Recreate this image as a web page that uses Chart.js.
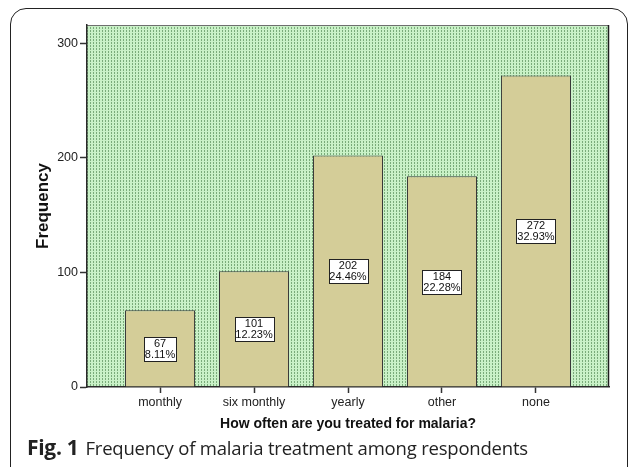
<!DOCTYPE html>
<html>
<head>
<meta charset="utf-8">
<script src="https://cdn.jsdelivr.net/npm/chart.js@4.4.1/dist/chart.umd.min.js"></script>
<style>
  html, body { margin: 0; padding: 0; background: #ffffff; }
  #wrap { position: relative; width: 630px; height: 467px; overflow: hidden; }
  #frame {
    position: absolute; left: 10px; top: 8px; width: 618px; height: 475px;
    border: 1.5px solid #222; border-radius: 16px; box-sizing: border-box;
  }
  #chart { position: absolute; left: 0; top: 0; }
  #caption {
    position: absolute; left: 27px; top: 434px;
    font-family: "Open Sans", "Noto Sans", sans-serif; color: #222;
    white-space: nowrap; line-height: 26px;
  }
  #caption b { font-weight: 700; font-size: 21px; margin-right: 7px; letter-spacing: -0.3px; }
  #caption span { font-size: 18.5px; letter-spacing: -0.2px; }
</style>
</head>
<body>
<div id="wrap">
  <div id="frame"></div>
  <canvas id="chart" width="630" height="467"></canvas>
  <div id="caption"><b>Fig. 1</b><span>Frequency of malaria treatment among respondents</span></div>
</div>
<script>
// Frequency of malaria treatment, by answer category
const categories = ["monthly", "six monthly", "yearly", "other", "none"];
const counts = [67, 101, 202, 184, 272];
const percentLabels = ["8.11%", "12.23%", "24.46%", "22.28%", "32.93%"];
const yTicks = [0, 100, 200, 300];

const FONT = "'Liberation Sans', Arial, sans-serif";

// dotted green fill for the plot background
function makeDotPattern(ctx) {
  const tile = document.createElement("canvas");
  tile.width = 3; tile.height = 3;
  const t = tile.getContext("2d");
  t.fillStyle = "#c9f1c7";
  t.fillRect(0, 0, 3, 3);
  t.fillStyle = "#7aab7a";
  t.fillRect(0, 0, 1, 2);
  return ctx.createPattern(tile, "repeat");
}

const plotBackground = {
  id: "plotBackground",
  beforeDraw(chart) {
    const { ctx, chartArea: a } = chart;
    ctx.save();
    ctx.fillStyle = makeDotPattern(ctx);
    ctx.fillRect(a.left, a.top, a.right - a.left, a.bottom - a.top);
    // frame lines along top and right
    ctx.strokeStyle = "#6f6f6f";
    ctx.lineWidth = 1;
    ctx.beginPath();
    ctx.moveTo(a.left, a.top + 0.5);
    ctx.lineTo(a.right, a.top + 0.5);
    ctx.stroke();
    ctx.strokeStyle = "#1e1e1e";
    ctx.lineWidth = 1.5;
    ctx.beginPath();
    ctx.moveTo(a.right - 0.5, a.top);
    ctx.lineTo(a.right - 0.5, a.bottom);
    ctx.stroke();
    ctx.restore();
  }
};

// boxed count + percentage inside each bar
const barLabels = {
  id: "barLabels",
  afterDatasetsDraw(chart) {
    const { ctx } = chart;
    const meta = chart.getDatasetMeta(0);
    const yScale = chart.scales.y;
    ctx.save();
    ctx.font = "11px " + FONT;
    ctx.textAlign = "center";
    ctx.textBaseline = "middle";
    meta.data.forEach((bar, i) => {
      const top = chart.data.datasets[0].data[i].y;
      const cy = (yScale.getPixelForValue(top) + yScale.getPixelForValue(0)) / 2;
      const l1 = String(counts[i]);
      const l2 = percentLabels[i];
      const w = Math.round(Math.max(ctx.measureText(l1).width, ctx.measureText(l2).width)) + 2;
      const h = 24;
      const x0 = Math.round(bar.x - w / 2) + 0.5;
      const y0 = Math.round(cy - h / 2) + 0.5;
      ctx.fillStyle = "#ffffff";
      ctx.fillRect(x0, y0, w, h);
      ctx.strokeStyle = "#222";
      ctx.lineWidth = 1;
      ctx.strokeRect(x0, y0, w, h);
      ctx.fillStyle = "#111";
      ctx.fillText(l1, bar.x, y0 + 6.5);
      ctx.fillText(l2, bar.x, y0 + 17.5);
    });
    ctx.restore();
  }
};

const ctx = document.getElementById("chart").getContext("2d");
new Chart(ctx, {
  type: "bar",
  data: {
    datasets: [{
      data: counts.map((v, i) => ({ x: i, y: v })),
      backgroundColor: "#d4cd98",
      borderColor: "#383838",
      borderWidth: 1,
      borderSkipped: "bottom",
      barPercentage: 0.745,
      categoryPercentage: 1
    }]
  },
  options: {
    responsive: false,
    animation: false,
    events: [],
    layout: { padding: { top: 25, right: 21, left: 33, bottom: 34 } },
    plugins: { legend: { display: false }, tooltip: { enabled: false } },
    scales: {
      x: {
        type: "linear",
        offset: false,
        min: -0.777,
        max: 4.777,
        afterBuildTicks(scale) { scale.ticks = categories.map((c, i) => ({ value: i })); },
        afterFit(scale) { scale.height = 46; },
        ticks: {
          autoSkip: false,
          maxRotation: 0,
          padding: 2,
          color: "#222",
          font: { family: FONT, size: 12.5 },
          callback: (v) => categories[v]
        },
        grid: {
          offset: false,
          drawOnChartArea: false,
          drawTicks: true,
          tickLength: 6,
          tickColor: "#333",
          tickWidth: 1.5
        },
        border: { display: true, color: "#2a2a2a", width: 1.5 },
        title: {
          display: true,
          text: "How often are you treated for malaria?",
          color: "#111",
          font: { family: FONT, size: 14, weight: "bold" },
          padding: { top: 1, bottom: 0 }
        }
      },
      y: {
        min: 0,
        max: 316,
        afterBuildTicks(scale) { scale.ticks = yTicks.map(v => ({ value: v })); },
        afterFit(scale) { scale.width = 54; },
        ticks: {
          padding: 2,
          color: "#222",
          font: { family: FONT, size: 12.5 }
        },
        grid: {
          drawOnChartArea: false,
          drawTicks: true,
          tickLength: 7,
          tickColor: "#333",
          tickWidth: 1.5
        },
        border: { display: true, color: "#2a2a2a", width: 1.5 },
        title: {
          display: true,
          text: "Frequency",
          color: "#111",
          font: { family: FONT, size: 17, weight: "bold" },
          padding: { top: 0, bottom: 0 }
        }
      }
    }
  },
  plugins: [plotBackground, barLabels]
});
</script>
</body>
</html>
